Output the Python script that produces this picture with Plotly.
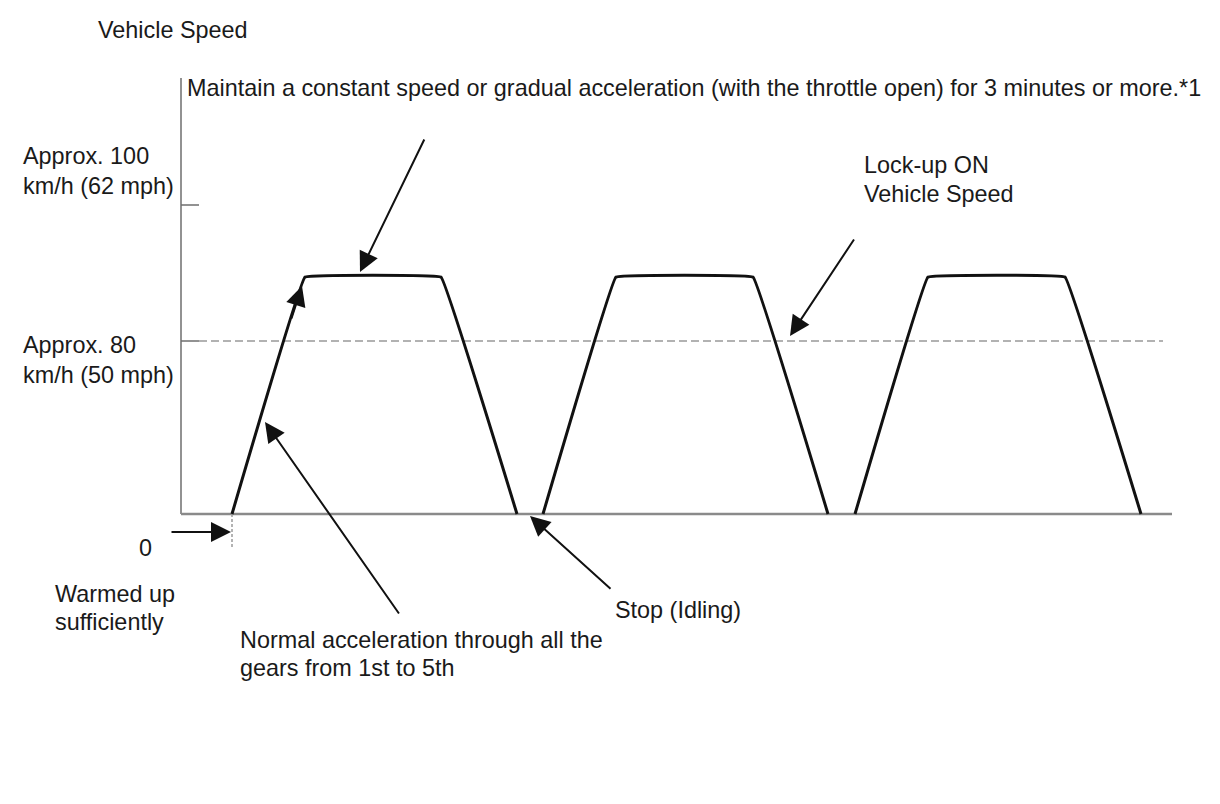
import plotly.graph_objects as go

# ---- data (diagram units: time offset from warm-up point, schematic speed height) ----
cycle1_t = [0, 73, 209, 285]
cycle2_t = [311, 384, 521, 596]
cycle3_t = [623, 696, 833, 909]
cycle_speed = [0, 237, 237, 0]

lockup_level = 173          # "Approx. 80 km/h"
top_tick_level = 309        # "Approx. 100 km/h"
axis_top = 436
baseline_end = 940
lockup_end = 931

title_text = "Vehicle Speed"
note_text = "Maintain a constant speed or gradual acceleration (with the throttle open) for 3 minutes or more.*1"
label_100 = ["Approx. 100", "km/h (62 mph)"]
label_80 = ["Approx. 80", "km/h (50 mph)"]
label_lockup = ["Lock-up ON", "Vehicle Speed"]
label_zero = "0"
label_warm = ["Warmed up", "sufficiently"]
label_stop = "Stop (Idling)"
label_accel = ["Normal acceleration through all the", "gears from 1st to 5th"]

PAGE_OFFSET = 8            # default body margin of the html page
X0 = -232 + PAGE_OFFSET    # left edge of figure in time units
YTOP = 514 - PAGE_OFFSET   # top edge of figure in speed units

FONT = "Liberation Sans, Arial, Helvetica, sans-serif"
GRAY = "#8a8a8a"
INK = "#111111"

fig = go.Figure()

# y axis line
fig.add_trace(go.Scatter(x=[-51, -51], y=[0, axis_top], mode="lines",
                         line=dict(color="#6e6e6e", width=1.5), hoverinfo="skip"))
# tick at 100
fig.add_trace(go.Scatter(x=[-51, -33], y=[top_tick_level, top_tick_level], mode="lines",
                         line=dict(color="#6e6e6e", width=1.5), hoverinfo="skip"))
# tick at 80 (solid part)
fig.add_trace(go.Scatter(x=[-51, -33], y=[lockup_level, lockup_level], mode="lines",
                         line=dict(color="#6e6e6e", width=1.5), hoverinfo="skip"))
# lock-up dashed line
fig.add_trace(go.Scatter(x=[-33, lockup_end], y=[lockup_level, lockup_level], mode="lines",
                         line=dict(color="#999999", width=1.5, dash="8px,4px"), hoverinfo="skip"))
# baseline
fig.add_trace(go.Scatter(x=[-51, baseline_end], y=[0, 0], mode="lines",
                         line=dict(color=GRAY, width=2.5), hoverinfo="skip"))
# warm-up marker
fig.add_trace(go.Scatter(x=[0, 0], y=[0, -34], mode="lines",
                         line=dict(color="#9a9a9a", width=1.5, dash="3px,2px"), hoverinfo="skip"))

# speed cycles
for t in (cycle1_t, cycle2_t, cycle3_t):
    fig.add_trace(go.Scatter(x=t, y=cycle_speed, mode="lines",
                             line=dict(color=INK, width=3, shape="spline", smoothing=0.1),
                             hoverinfo="skip"))

annotations = []


def px(xp, yp):
    return xp - 232, 514 - yp


def text(pos, s, anchor="left"):
    x, y = px(pos[0] - 2, pos[1])
    annotations.append(dict(x=x, y=y, xref="x", yref="y", text=s, showarrow=False,
                            xanchor=anchor, yanchor="middle",
                            font=dict(family=FONT, size=23.4, color="#1a1a1a")))


def arrow(tail, tip):
    tx, ty = px(*tail)
    hx, hy = px(*tip)
    annotations.append(dict(x=hx, y=hy, ax=tx, ay=ty, xref="x", yref="y", axref="x", ayref="y",
                            text="", showarrow=True, arrowhead=2, arrowsize=2,
                            arrowwidth=2, arrowcolor=INK, standoff=0))


text((98, 30), title_text)
text((187, 88), note_text)
text((23, 156), label_100[0])
text((23, 186), label_100[1])
text((864, 165), label_lockup[0])
text((864, 194), label_lockup[1])
text((23, 345), label_80[0])
text((23, 375), label_80[1])
text((147, 548), label_zero, anchor="center")
text((55, 594), label_warm[0])
text((55, 622), label_warm[1])
text((615, 610), label_stop)
text((240, 640), label_accel[0])
text((240, 668), label_accel[1])

arrow((425, 138), (360, 272))
arrow((855, 238), (790, 336))
arrow((400, 615), (265, 422))
arrow((612, 590), (530, 516))
arrow((170, 532), (231, 532))
arrow((291, 320), (302, 286))

fig.update_layout(
    width=1220, height=804,
    margin=dict(l=0, r=0, t=0, b=0),
    paper_bgcolor="white", plot_bgcolor="white",
    showlegend=False,
    annotations=annotations,
    xaxis=dict(range=[X0, X0 + 1220], visible=False, fixedrange=True),
    yaxis=dict(range=[YTOP - 804, YTOP], visible=False, fixedrange=True),
)

fig.write_html("out.html")
